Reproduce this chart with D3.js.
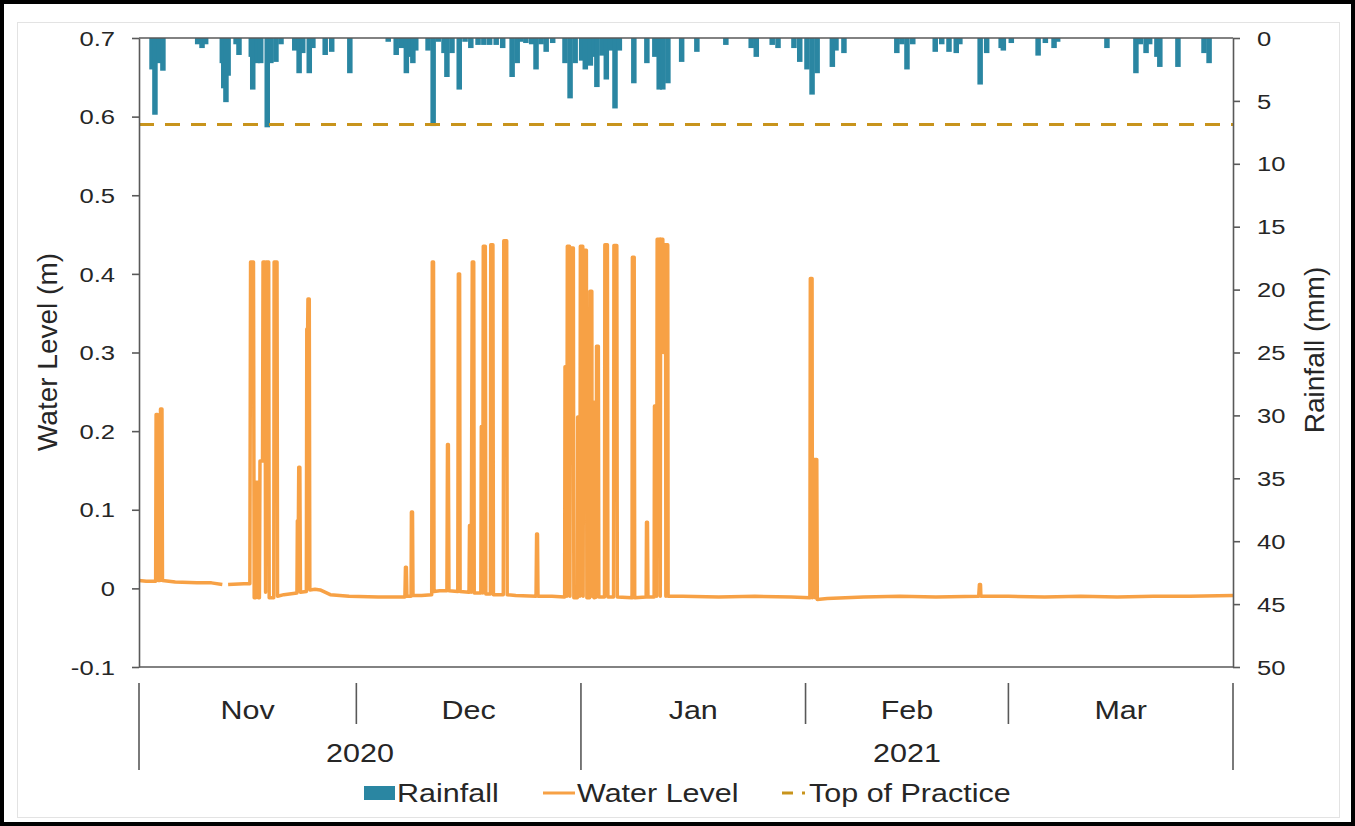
<!DOCTYPE html>
<html>
<head>
<meta charset="utf-8">
<script src="https://cdn.jsdelivr.net/npm/d3@7"></script>
<style>
  html, body { margin: 0; padding: 0; background: #fff; }
  svg { display: block; font-family: "Liberation Sans", Arial, sans-serif; }
</style>
</head>
<body>
<svg id="chart" width="1355" height="826"></svg>
<script>
// ---- data -------------------------------------------------------------
// Time is counted in days from 1 Nov 2020 00:00.
const periodStart = Date.UTC(2020, 10, 1);
const periodEnd = Date.UTC(2021, 3, 1);

// Rainfall events (day, mm)
const rainDay = [1.8,2.2,2.8,3.3,8.1,8.7,9.2,11.5,11.7,12.0,
  12.3,13.4,13.8,15.5,15.7,16.3,16.8,17.7,18.2,18.9,
  19.6,21.5,22.1,22.6,23.5,24.0,25.7,26.6,29.1,34.4,
  35.5,36.2,36.9,37.4,37.8,38.2,39.9,40.6,41.3,42.1,
  42.5,43.2,44.2,45.0,45.8,46.8,47.6,48.4,49.3,50.2,
  51.5,52.2,52.7,53.4,54.2,54.8,55.5,56.2,57.1,58.8,
  59.5,60.2,61.1,61.6,62.3,62.8,63.2,63.9,64.5,65.1,
  65.7,66.3,68.3,70.1,71.2,71.8,72.3,73.0,74.9,77.0,
  81.0,84.5,85.2,87.4,88.2,90.4,91.2,92.2,92.9,93.6,
  95.7,96.2,97.3,104.6,105.3,106.0,106.8,109.9,110.8,111.8,
  112.8,113.3,116.1,117.0,119.0,119.3,120.4,124.1,125.1,126.3,
  126.8,133.6,137.6,138.2,139.0,139.5,140.5,140.9,143.4,147.0,
  147.7];
const rainMm = [2.5,6.1,2.0,2.6,0.5,0.8,0.5,2.0,4.0,5.1,
  3.0,0.5,1.35,1.5,4.1,2.0,2.0,7.1,2.0,1.9,
  0.5,1.0,2.8,1.2,2.8,0.8,1.35,1.1,2.8,0.3,
  1.35,0.8,2.8,1.5,2.0,1.0,1.0,7.0,0.3,1.2,
  3.1,1.2,4.1,0.3,0.8,0.55,0.55,0.55,0.55,0.8,
  3.1,2.0,0.3,0.4,0.5,2.5,0.5,1.1,0.4,2.0,
  4.8,2.0,1.8,2.5,2.2,1.5,3.9,1.4,3.3,1.0,
  5.6,1.0,3.6,2.0,1.5,4.1,4.1,3.6,1.9,1.1,
  0.55,0.8,1.5,0.55,0.8,0.8,1.9,2.5,4.5,2.8,
  2.3,1.0,1.2,1.2,0.5,2.5,0.5,1.1,0.5,1.1,
  1.2,0.5,3.7,1.2,0.8,1.0,0.4,1.4,0.4,0.8,
  0.3,0.8,2.8,0.5,1.2,0.5,1.5,2.3,2.3,1.2,
  2.0];

// Water level record (day, m); null marks a logger gap
const waterLevel = [
  [0.00,0.010],[1.00,0.009],[2.30,0.009],
  [2.36,0.221],[2.55,0.221],[2.62,0.010],
  [2.90,0.010],[2.97,0.228],[3.17,0.228],[3.24,0.010],
  [5.00,0.008],[8.00,0.007],[10.00,0.007],[11.50,0.005],
  [11.60,null],
  [12.30,0.005],[14.50,0.006],[15.30,0.006],
  [15.40,0.415],[15.80,0.415],[15.90,-0.012],
  [16.10,-0.012],[16.20,0.135],[16.40,0.135],[16.48,-0.012],
  [16.62,-0.012],[16.70,0.162],[17.05,0.162],[17.12,0.415],[17.40,0.415],[17.47,-0.005],
  [17.55,0.415],[17.90,0.415],[17.97,-0.012],
  [18.60,-0.012],[18.65,0.415],[19.05,0.415],[19.12,-0.010],
  [20.00,-0.008],[21.80,-0.006],
  [21.86,0.086],[22.00,0.086],[22.05,0.154],[22.20,0.154],[22.28,-0.005],
  [23.10,-0.004],[23.16,0.330],[23.28,0.330],[23.32,0.368],[23.50,0.368],[23.58,-0.002],
  [24.30,-0.001],[25.00,-0.002],[26.40,-0.008],[29.00,-0.010],[33.00,-0.011],[36.70,-0.011],
  [36.78,0.027],[36.90,0.027],[36.98,-0.010],
  [37.55,-0.010],[37.60,0.097],[37.75,0.097],[37.82,-0.009],
  [39.00,-0.009],[40.40,-0.008],
  [40.48,0.415],[40.65,0.415],[40.72,-0.004],
  [41.50,-0.003],[42.50,-0.003],
  [42.58,0.183],[42.70,0.183],[42.78,-0.003],
  [44.00,-0.004],[44.08,0.400],[44.25,0.400],[44.32,-0.004],
  [45.55,-0.005],[45.62,0.080],[45.80,0.080],[45.85,-0.005],[46.00,0.415],[46.20,0.415],[46.27,-0.006],
  [47.18,-0.006],[47.25,0.206],[47.40,0.206],[47.45,-0.006],[47.52,0.435],[47.80,0.435],[47.87,-0.007],
  [48.50,-0.007],[48.55,0.437],[48.85,0.437],[48.92,-0.008],
  [50.28,-0.008],[50.35,0.442],[50.75,0.442],[50.82,-0.008],
  [52.00,-0.009],[54.80,-0.010],
  [54.88,0.069],[55.00,0.069],[55.07,-0.010],
  [57.00,-0.010],[58.70,-0.011],
  [58.75,-0.011],[58.80,0.282],[59.00,0.282],[59.05,-0.010],[59.12,0.435],[59.42,0.435],[59.48,-0.010],[59.55,0.433],[59.95,0.433],[60.02,-0.012],
  [60.50,-0.012],[60.55,0.218],[60.80,0.218],[60.85,-0.010],[60.92,0.435],[61.25,0.435],[61.30,-0.010],[61.37,0.430],[61.75,0.430],[61.82,-0.012],
  [62.20,-0.012],[62.25,0.378],[62.50,0.378],[62.55,-0.010],[62.60,0.237],[62.75,0.237],[62.80,-0.012],
  [63.10,-0.011],[63.15,0.308],[63.40,0.308],[63.47,-0.011],
  [64.25,-0.011],[64.30,0.437],[64.65,0.437],[64.72,-0.011],
  [65.50,-0.011],[65.55,0.436],[65.95,0.436],[66.02,-0.011],
  [68.05,-0.012],[68.10,0.421],[68.35,0.421],[68.42,-0.012],
  [70.00,-0.011],[70.05,0.084],[70.18,0.084],[70.25,-0.011],
  [71.10,-0.011],[71.15,0.232],[71.40,0.232],[71.45,-0.010],[71.52,0.444],[71.90,0.444],[71.95,-0.010],
  [72.00,0.444],[72.30,0.444],[72.36,0.300],[72.42,0.437],[72.68,0.437],[72.72,-0.010],[72.76,0.437],[72.98,0.437],[73.03,-0.010],
  [75.00,-0.010],[80.00,-0.011],[85.00,-0.010],[90.00,-0.011],[92.60,-0.012],
  [92.66,0.394],[92.90,0.394],[92.95,-0.012],[93.00,0.164],[93.30,0.164],[93.35,-0.012],[93.40,0.164],[93.55,0.164],[93.62,-0.014],
  [95.00,-0.013],[100.00,-0.011],[105.00,-0.010],[110.00,-0.011],[115.90,-0.010],
  [116.00,0.005],[116.15,0.005],[116.20,-0.010],
  [120.00,-0.010],[125.00,-0.011],[130.00,-0.010],[135.00,-0.011],[140.00,-0.010],[145.00,-0.010],[151.00,-0.009]
];

const topOfPractice = 0.59;

const levelTicks = [-0.1, 0, 0.1, 0.2, 0.3, 0.4, 0.5, 0.6, 0.7];
const levelTickLabels = ["-0.1", "0", "0.1", "0.2", "0.3", "0.4", "0.5", "0.6", "0.7"];
const rainTicks = [0, 5, 10, 15, 20, 25, 30, 35, 40, 45, 50];

const monthLabels = ["Nov", "Dec", "Jan", "Feb", "Mar"];
const monthStarts = ["2020-11-01", "2020-12-01", "2021-01-01", "2021-02-01", "2021-03-01", "2021-04-01"];
const yearLabels = ["2020", "2021"];
const yearStarts = ["2020-11-01", "2021-01-01", "2021-04-01"];

const legendLabels = ["Rainfall", "Water Level", "Top of Practice"];

// ---- layout & scales ---------------------------------------------------
const W = 1355, H = 826;
const plot = { left: 139, right: 1233, top: 38, bottom: 667 };
const SX = 1.22;              // horizontal widening of the lettering
const AXIS = "#595959", TEXT = "#262626";
const RAIN = "#2A86A2", WATER = "#F7A145", TOP = "#C8941C";

const svg = d3.select("#chart");
const toDate = d => new Date(periodStart + d * 864e5);
const x = d3.scaleUtc().domain([new Date(periodStart), new Date(periodEnd)]).range([plot.left, plot.right]);
const yL = d3.scaleLinear().domain([-0.1, 0.7]).range([plot.bottom, plot.top]);
const yR = d3.scaleLinear().domain([0, 50]).range([plot.top, plot.bottom]);

function label(g, str, px, py, size, anchor) {
  return g.append("text")
    .attr("transform", `translate(${px},${py}) scale(${SX},1)`)
    .attr("text-anchor", anchor)
    .attr("dominant-baseline", "central")
    .attr("font-size", size)
    .attr("fill", TEXT)
    .text(str);
}
function titleV(g, str, px, py, size) {
  return g.append("text")
    .attr("transform", `translate(${px},${py}) rotate(-90)`)
    .attr("text-anchor", "middle")
    .attr("dominant-baseline", "central")
    .attr("font-size", size)
    .attr("fill", TEXT)
    .text(str);
}

// ---- frame ---------------------------------------------------------------
svg.append("rect").attr("x", 2).attr("y", 2).attr("width", W - 4).attr("height", H - 4)
  .attr("fill", "#fff").attr("stroke", "#000").attr("stroke-width", 4);
svg.append("rect").attr("x", 17.5).attr("y", 22.5).attr("width", 1322).attr("height", 795)
  .attr("fill", "none").attr("stroke", "#e3e3e3").attr("stroke-width", 1);

// ---- rainfall bars (hanging from the top, inverted secondary axis) ------
const half = 0.38;
svg.append("g").selectAll("rect")
  .data(rainDay)
  .join("rect")
  .attr("x", d => x(toDate(d - half)))
  .attr("width", d => x(toDate(d + half)) - x(toDate(d - half)))
  .attr("y", yR(0))
  .attr("height", (d, i) => yR(rainMm[i]) - yR(0))
  .attr("fill", RAIN);

// ---- water level -----------------------------------------------------------
const line = d3.line()
  .defined(p => p[1] !== null)
  .x(p => x(toDate(p[0])))
  .y(p => yL(p[1]));
svg.append("path")
  .datum(waterLevel)
  .attr("d", line)
  .attr("fill", "none")
  .attr("stroke", WATER)
  .attr("stroke-width", 3.5)
  .attr("stroke-linejoin", "round");

// ---- top of practice --------------------------------------------------------
svg.append("line")
  .attr("x1", plot.left).attr("x2", plot.right)
  .attr("y1", yL(topOfPractice)).attr("y2", yL(topOfPractice))
  .attr("stroke", TOP).attr("stroke-width", 3).attr("stroke-dasharray", "15,11");

// ---- axes ------------------------------------------------------------------
function styleAxis(g, offset, anchor) {
  g.attr("font-family", null).attr("font-size", null);
  g.select(".domain").attr("stroke", AXIS).attr("stroke-width", 1.6);
  g.selectAll(".tick line").attr("stroke", AXIS).attr("stroke-width", 1.6);
  g.selectAll(".tick text")
    .attr("x", null).attr("dy", null)
    .attr("transform", `translate(${offset},0) scale(${SX},1)`)
    .attr("text-anchor", anchor)
    .attr("dominant-baseline", "central")
    .attr("font-size", 21)
    .attr("fill", TEXT);
}

const gL = svg.append("g")
  .attr("transform", `translate(${plot.left},0)`)
  .call(d3.axisLeft(yL).tickValues(levelTicks)
    .tickFormat(d => levelTickLabels[levelTicks.indexOf(d)])
    .tickSize(7).tickSizeOuter(0));
styleAxis(gL, -24, "end");

const gR = svg.append("g")
  .attr("transform", `translate(${plot.right},0)`)
  .call(d3.axisRight(yR).tickValues(rainTicks).tickSize(7).tickSizeOuter(0));
styleAxis(gR, 24, "start");

// top and bottom frame lines of the plot area
[plot.top, plot.bottom].forEach(yy => {
  svg.append("line").attr("x1", plot.left).attr("x2", plot.right)
    .attr("y1", yy).attr("y2", yy)
    .attr("stroke", AXIS).attr("stroke-width", 1.6);
});

// ---- two-level date axis ---------------------------------------------------
const gX = svg.append("g");
const mDates = monthStarts.map(s => new Date(s + "T00:00:00Z"));
const yDates = yearStarts.map(s => new Date(s + "T00:00:00Z"));
const yearSet = new Set(yearStarts);
monthStarts.forEach((s, i) => {
  const xx = x(mDates[i]);
  gX.append("line").attr("x1", xx).attr("x2", xx)
    .attr("y1", 683).attr("y2", yearSet.has(s) ? 770 : 724)
    .attr("stroke", AXIS).attr("stroke-width", 1.6);
});
monthLabels.forEach((m, i) => {
  label(gX, m, (x(mDates[i]) + x(mDates[i + 1])) / 2, 710, 25, "middle");
});
yearLabels.forEach((yv, i) => {
  label(gX, yv, (x(yDates[i]) + x(yDates[i + 1])) / 2, 753, 25, "middle");
});

// ---- axis titles -------------------------------------------------------------
titleV(svg, "Water Level (m)", 47, 352, 28);
titleV(svg, "Rainfall (mm)", 1314, 350, 28);

// ---- legend ------------------------------------------------------------------
const lg = svg.append("g");
const ly = 793;
lg.append("rect").attr("x", 364).attr("y", ly - 7).attr("width", 31).attr("height", 14).attr("fill", RAIN);
label(lg, legendLabels[0], 397, ly, 25, "start");
lg.append("line").attr("x1", 543).attr("x2", 575).attr("y1", ly).attr("y2", ly)
  .attr("stroke", WATER).attr("stroke-width", 3);
label(lg, legendLabels[1], 577, ly, 25, "start");
lg.append("line").attr("x1", 782).attr("x2", 793).attr("y1", ly).attr("y2", ly)
  .attr("stroke", TOP).attr("stroke-width", 3);
lg.append("line").attr("x1", 802).attr("x2", 805).attr("y1", ly).attr("y2", ly)
  .attr("stroke", TOP).attr("stroke-width", 3);
label(lg, legendLabels[2], 809, ly, 25, "start");
</script>
</body>
</html>
